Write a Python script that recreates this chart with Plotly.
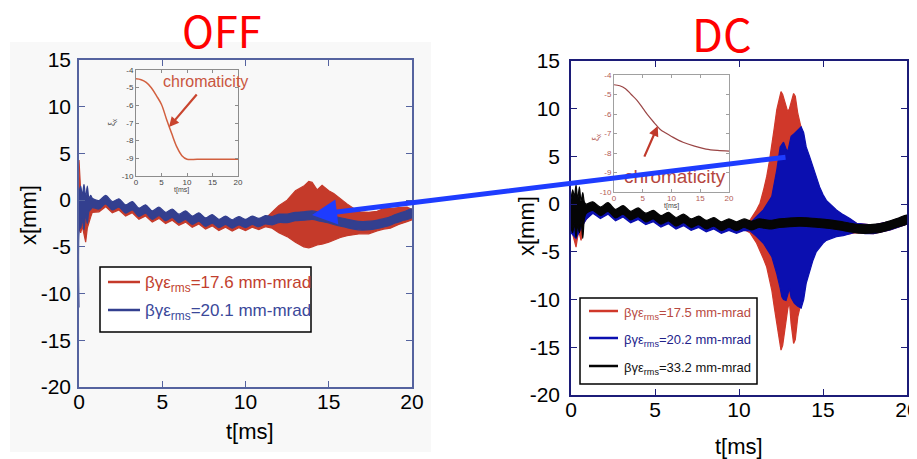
import plotly.graph_objects as go

# the page body has an 8 px margin; the figure is placed at (8, 8) in the window
OFF = 8
W, H = 917 - OFF, 459 - OFF
def X(px): return (px - OFF) / W
def Y(py): return 1 - (py - OFF) / H

# ------------------------------------------------------------------ data
tick_vals_x = [0, 5, 10, 15, 20]
tick_text_x = ["0", "5", "10", "15", "20"]
tick_vals_y = [-20, -15, -10, -5, 0, 5, 10, 15]
tick_text_y = ["-20", "-15", "-10", "-5", "0", "5", "10", "15"]
inset_vals_y = [-10, -9, -8, -7, -6, -5, -4]
inset_text_y = ["-10", "-9", "-8", "-7", "-6", "-5", "-4"]

# OFF panel, 17.6 mm-mrad (red) : envelope (upper / lower) of the oscillation
off_red_t = [0, 0.1, 0.2, 0.3, 0.4, 0.5, 0.6, 0.7, 0.8,
             1.2, 1.6, 2.0, 2.4, 2.8, 3.2, 3.6, 4.0, 4.4, 4.8, 5.2, 5.6, 6.0, 6.4, 6.8, 7.2,
             7.6, 8.0, 8.4, 8.8, 9.2, 9.6, 10.0, 10.4, 10.8, 11.2,
             11.6, 12.0, 12.5, 13.0, 13.5, 13.8, 14.0, 14.3, 14.6, 15.0, 15.3, 15.7, 16.1,
             16.5, 16.9, 17.4, 17.9, 18.3, 18.7, 19.2, 19.7, 20.0]
off_red_hi = [4.3, 1.0, 0.5, 0.8, 0.2, 0.5, 0.0, 0.0, -0.1,
              -0.35, 0.2, -0.45, -0.15, -0.8, -0.45, -1.15, -0.8, -1.45, -1.05, -1.6, -1.25, -1.8, -1.45, -2.0, -1.65,
              -2.2, -1.85, -2.35, -2.0, -2.4, -2.05, -2.35, -2.0, -2.25, -1.95,
              -1.3, -0.6, 0.0, 1.0, 1.5, 2.0, 1.9, 1.1, 1.6, 1.0, 0.7, 0.1, -0.4,
              -0.9, -1.25, -1.3, -1.2, -0.9, -0.9, -0.8, -0.75, -1.0]
off_red_lo = [-3.0, -3.5, -2.8, -3.8, -4.5, -3.0, -2.5, -1.8, -1.3,
              -1.25, -0.7, -1.35, -1.05, -1.7, -1.35, -2.05, -1.7, -2.35, -1.95, -2.5, -2.15, -2.7, -2.35, -2.9, -2.55,
              -3.1, -2.75, -3.25, -2.9, -3.3, -2.95, -3.25, -2.9, -3.15, -2.85,
              -3.0, -3.5, -3.9, -4.5, -5.0, -5.1, -5.0, -4.8, -4.7, -4.5, -4.3, -4.0, -3.8,
              -3.7, -3.6, -3.6, -3.3, -3.1, -3.0, -2.6, -2.3, -2.1]

# OFF panel, 20.1 mm-mrad (blue)
off_blue_t = [0, 0.05, 0.1, 0.2, 0.3, 0.4, 0.5, 0.6, 0.7, 0.8,
              1.2, 1.6, 2.0, 2.4, 2.8, 3.2, 3.6, 4.0, 4.4, 4.8, 5.2, 5.6, 6.0, 6.4, 6.8, 7.2,
              7.6, 8.0, 8.4, 8.8, 9.2, 9.6, 10.0, 10.4, 10.8, 11.2, 11.6,
              12.0, 12.5, 13.0, 13.5, 14.0, 14.5, 15.0, 15.5, 16.0, 16.5, 17.0, 17.5, 18.0,
              18.5, 19.0, 19.5, 20.0]
off_blue_hi = [0.8, 1.2, 1.5, 0.5, 1.7, 0.3, 1.5, 0.2, 0.5, 0.2,
               -0.05, 0.5, -0.15, 0.15, -0.5, -0.15, -0.85, -0.5, -1.15, -0.75, -1.3, -0.95, -1.5, -1.15, -1.7, -1.35,
               -1.9, -1.55, -2.05, -1.7, -2.1, -1.75, -2.05, -1.7, -1.95, -1.65, -1.75,
               -1.5, -1.5, -1.3, -1.25, -1.15, -1.35, -1.55, -1.8, -2.0, -2.2, -2.3, -2.25, -2.1,
               -1.9, -1.55, -1.25, -0.95]
off_blue_lo = [-11.5, -3.0, -3.0, -2.0, -3.2, -1.5, -2.5, -1.2, -1.0, -0.8,
               -0.95, -0.4, -1.05, -0.75, -1.4, -1.05, -1.75, -1.4, -2.05, -1.65, -2.2, -1.85, -2.4, -2.05, -2.6, -2.25,
               -2.8, -2.45, -2.95, -2.6, -3.0, -2.65, -2.95, -2.6, -2.85, -2.55, -2.65,
               -2.4, -2.4, -2.2, -2.15, -2.05, -2.25, -2.45, -2.7, -2.9, -3.1, -3.2, -3.15, -3.0,
               -2.8, -2.45, -2.15, -1.85]

# DC panel, 33.2 mm-mrad (black)
dc_black_t = [0, 0.1, 0.2, 0.3, 0.4, 0.5, 0.6, 0.7, 0.8, 0.9,
              1.3, 1.75, 2.2, 2.65, 3.1, 3.55, 4.0, 4.45, 4.9, 5.35, 5.8, 6.25, 6.7, 7.15, 7.6,
              8.05, 8.5, 8.95, 9.4, 9.85, 10.3, 10.75, 11.2, 11.8, 12.4, 13.0, 13.6, 14.2,
              14.8, 15.4, 16.0, 16.6, 17.2, 17.8, 18.4, 19.0, 19.5, 20.0]
dc_black_hi = [0.5, 1.5, 0.8, 2.0, 0.5, 1.8, 0.3, 1.2, 0.2, 0.0,
               0.25, -0.3, 0.15, -0.55, -0.15, -0.75, -0.4, -0.95, -0.65, -1.2, -0.85, -1.4, -1.05, -1.55, -1.25,
               -1.7, -1.4, -1.85, -1.55, -1.85, -1.55, -1.8, -1.55, -1.7, -1.55, -1.45, -1.4, -1.45,
               -1.55, -1.65, -1.8, -2.0, -2.15, -2.15, -2.05, -1.75, -1.45, -1.15]
dc_black_lo = [-2.5, -3.0, -2.0, -3.5, -2.2, -3.0, -1.8, -3.6, -1.5, -1.0,
               -0.65, -1.2, -0.75, -1.45, -1.05, -1.65, -1.3, -1.85, -1.55, -2.1, -1.75, -2.3, -1.95, -2.45, -2.15,
               -2.6, -2.3, -2.75, -2.45, -2.75, -2.45, -2.7, -2.45, -2.6, -2.45, -2.35, -2.3, -2.35,
               -2.45, -2.55, -2.7, -2.9, -3.05, -3.05, -2.95, -2.65, -2.35, -2.05]

# DC panel, 20.2 mm-mrad (blue)
dc_blue_t = [0, 0.3, 0.6, 0.9,
             1.3, 1.75, 2.2, 2.65, 3.1, 3.55, 4.0, 4.45, 4.9, 5.35, 5.8, 6.25, 6.7, 7.15, 7.6,
             8.05, 8.5, 8.95, 9.4, 9.85, 10.3,
             10.65, 11.05, 11.45, 11.95, 12.25, 12.45, 12.55, 12.65, 12.8, 12.9, 13.0, 13.1, 13.3,
             13.5, 13.7, 13.85, 14.0, 14.2, 14.4, 14.6, 14.8, 15.0, 15.2, 15.5, 15.8, 16.2, 16.6,
             17.0, 17.5, 18.0, 19.0, 20.0]
dc_blue_hi = [0.0, 1.0, 0.0, -0.2,
              0.05, -0.5, -0.05, -0.75, -0.35, -0.95, -0.6, -1.15, -0.85, -1.4, -1.05, -1.6, -1.25, -1.75, -1.45,
              -1.9, -1.6, -2.05, -1.75, -2.05, -1.75,
              -2.0, -1.3, -0.6, 0.8, 3.6, 6.0, 6.3, 6.5, 5.8, 5.5, 6.3, 7.1, 7.4,
              7.8, 8.1, 7.5, 6.0, 5.0, 3.9, 2.8, 1.8, 1.0, 0.4, -0.1, -0.6, -1.1, -1.5,
              -2.0, -2.1, -2.2, -1.8, -1.2]
dc_blue_lo = [-3.0, -3.6, -2.5, -1.6,
              -0.95, -1.5, -1.05, -1.75, -1.35, -1.95, -1.6, -2.15, -1.85, -2.4, -2.05, -2.6, -2.25, -2.75, -2.45,
              -2.9, -2.6, -3.05, -2.75, -3.05, -2.75,
              -2.8, -3.4, -4.1, -5.5, -7.3, -8.8, -9.7, -10.0, -10.1, -9.5, -8.8, -9.8, -10.4,
              -10.7, -10.9, -10.0, -8.3, -7.0, -5.9, -5.0, -4.5, -4.1, -3.8, -3.6, -3.4, -3.3, -3.1,
              -2.9, -3.1, -3.1, -2.7, -2.1]

# DC panel, 17.5 mm-mrad (red)
dc_red_t = [0, 0.15, 0.3, 0.45, 0.6, 0.75, 0.9,
            1.3, 1.75, 2.2, 2.65, 3.1, 3.55, 4.0, 4.45, 4.9, 5.35, 5.8, 6.25, 6.7, 7.15, 7.6,
            8.05, 8.5, 8.95, 9.4, 9.85, 10.3,
            10.65, 11.05, 11.25, 11.45, 11.65, 11.8, 11.95, 12.1, 12.25, 12.4, 12.5, 12.6, 12.75,
            12.9, 13.0, 13.1, 13.25, 13.35, 13.5, 13.7, 13.85, 14.2, 14.6, 15.0, 15.5, 16.2,
            17.0, 18.0, 19.0, 20.0]
dc_red_hi = [0.0, -0.5, 0.0, -0.5, 0.0, -0.5, -0.5,
             -0.05, -0.6, -0.15, -0.85, -0.45, -1.05, -0.7, -1.25, -0.95, -1.5, -1.15, -1.7, -1.35, -1.85, -1.55,
             -2.0, -1.7, -2.15, -1.85, -2.15, -1.85,
             -1.7, -0.6, 0.1, 1.4, 2.9, 4.4, 6.0, 8.0, 9.9, 11.2, 11.8, 11.5, 10.6,
             9.7, 10.0, 10.7, 11.6, 11.3, 9.5, 8.0, 6.5, 4.0, 2.0, 0.5, -0.5, -1.2,
             -2.0, -2.2, -1.8, -1.2]
dc_red_lo = [-2.5, -3.5, -4.5, -2.8, -3.8, -2.0, -1.6,
             -0.85, -1.4, -0.95, -1.65, -1.25, -1.85, -1.5, -2.05, -1.75, -2.3, -1.95, -2.5, -2.15, -2.65, -2.35,
             -2.8, -2.5, -2.95, -2.65, -2.95, -2.65,
             -3.0, -4.1, -4.8, -5.7, -6.6, -7.8, -9.0, -10.8, -12.5, -14.3, -15.3, -14.8, -13.2,
             -11.0, -10.2, -12.5, -14.6, -14.2, -11.8, -10.4, -9.0, -6.5, -4.5, -3.8, -3.4, -3.2,
             -3.0, -3.1, -2.7, -2.1]

# insets: chromaticity vs time
off_chrom_t = [0, 1, 2, 3, 4, 5, 6, 7, 8, 9, 10, 12, 15, 20]
off_chrom = [-4.5, -4.55, -4.7, -5.0, -5.45, -5.95, -6.8, -7.6, -8.35, -8.85, -9.05, -9.05, -9.05, -9.05]
dc_chrom_t = [0, 1, 2, 3, 4, 5, 6, 7, 8, 9, 10, 12, 14, 16, 18, 20]
dc_chrom = [-4.5, -4.55, -4.7, -5.0, -5.3, -5.7, -6.1, -6.45, -6.78, -6.98, -7.15, -7.45, -7.65, -7.8, -7.87, -7.9]

for a, b, c in [(off_red_t, off_red_hi, off_red_lo), (off_blue_t, off_blue_hi, off_blue_lo),
                (dc_black_t, dc_black_hi, dc_black_lo), (dc_blue_t, dc_blue_hi, dc_blue_lo),
                (dc_red_t, dc_red_hi, dc_red_lo)]:
    assert len(a) == len(b) == len(c), (len(a), len(b), len(c))

# ------------------------------------------------------------------ styles
FONT = "Liberation Sans, Arial, sans-serif"
OFF_RED, OFF_BLUE = "#c53a2a", "#333f8f"
DC_RED, DC_BLUE, DC_BLACK = "#d0382a", "#0b0fb0", "#050505"

fig = go.Figure()

def band(t, hi, lo, color, xa, ya, smooth=False):
    fig.add_trace(go.Scatter(
        x=list(t) + list(t)[::-1], y=list(hi) + list(lo)[::-1],
        fill="toself", fillcolor=color, mode="lines",
        line=dict(color=color, width=1.2, shape="spline" if smooth else "linear", smoothing=0.8),
        xaxis=xa, yaxis=ya, hoverinfo="skip", showlegend=False))

band(off_red_t, off_red_hi, off_red_lo, OFF_RED, "x", "y")
band(off_blue_t, off_blue_hi, off_blue_lo, OFF_BLUE, "x", "y", smooth=True)
band(dc_red_t, dc_red_hi, dc_red_lo, DC_RED, "x2", "y2")
band(dc_blue_t, dc_blue_hi, dc_blue_lo, DC_BLUE, "x2", "y2")
band(dc_black_t, dc_black_hi, dc_black_lo, DC_BLACK, "x2", "y2", smooth=True)

fig.add_trace(go.Scatter(x=off_chrom_t, y=off_chrom, mode="lines", line_shape="spline",
                         line=dict(color="#d2603f", width=1.5), xaxis="x3", yaxis="y3",
                         hoverinfo="skip", showlegend=False))
fig.add_trace(go.Scatter(x=dc_chrom_t, y=dc_chrom, mode="lines", line_shape="spline",
                         line=dict(color="#9a4545", width=1.2), xaxis="x4", yaxis="y4",
                         hoverinfo="skip", showlegend=False))

def main_x(dom, anchor, col):
    return dict(domain=dom, anchor=anchor, range=[0, 20], tickvals=tick_vals_x, ticktext=tick_text_x,
                showgrid=False, zeroline=False, showline=True, mirror="ticks", ticks="inside",
                linecolor=col, tickcolor=col, linewidth=1.5, ticklen=6, automargin=False,
                ticklabelstandoff=-5, ticklabeloverflow="allow",
                tickfont=dict(family=FONT, size=21, color="black"))

def main_y(dom, anchor, col, standoff):
    return dict(domain=dom, anchor=anchor, range=[-20, 15], tickvals=tick_vals_y, ticktext=tick_text_y,
                showgrid=False, zeroline=False, showline=True, mirror="ticks", ticks="inside",
                linecolor=col, tickcolor=col, linewidth=1.5, ticklen=6, ticklabelstandoff=standoff,
                automargin=False, ticklabeloverflow="allow",
                tickfont=dict(family=FONT, size=21, color="black"))

def inset_x(dom, anchor, col, fcol):
    return dict(domain=dom, anchor=anchor, range=[0, 20], tickvals=tick_vals_x, ticktext=tick_text_x,
                showgrid=False, zeroline=False, showline=True, mirror="ticks", ticks="inside",
                linecolor=col, tickcolor=col, linewidth=1, ticklen=3, automargin=False,
                ticklabelstandoff=-2, ticklabeloverflow="allow",
                tickfont=dict(family=FONT, size=8, color=fcol))

def inset_y(dom, anchor, col, fcol):
    return dict(domain=dom, anchor=anchor, range=[-10, -4], tickvals=inset_vals_y, ticktext=inset_text_y,
                showgrid=False, zeroline=False, showline=True, mirror="ticks", ticks="inside",
                linecolor=col, tickcolor=col, linewidth=1, ticklen=3, automargin=False,
                ticklabeloverflow="allow",
                tickfont=dict(family=FONT, size=8, color=fcol))

fig.update_layout(
    width=W, height=H, margin=dict(l=0, r=0, t=0, b=0, pad=0, autoexpand=False),
    paper_bgcolor="white", plot_bgcolor="rgba(0,0,0,0)", showlegend=False,
    xaxis=main_x([X(79), X(412)], "y", "#55639f"),
    yaxis=main_y([Y(387), Y(60)], "x", "#55639f", 2),
    xaxis2=main_x([X(571), X(907)], "y2", "#1c1c78"),
    yaxis2=main_y([Y(395), Y(61)], "x2", "#1c1c78", 5),
    xaxis3=inset_x([X(136), X(238)], "y3", "#8c8c8c", "#444444"),
    yaxis3=inset_y([Y(176), Y(70)], "x3", "#8c8c8c", "#444444"),
    xaxis4=inset_x([X(614), X(729)], "y4", "#a0a0a0", "#b35a55"),
    yaxis4=inset_y([Y(192), Y(75)], "x4", "#a0a0a0", "#b35a55"),
)

shapes = []
# faint panel background of the left figure
shapes.append(dict(type="rect", xref="paper", yref="paper", x0=X(10), x1=X(431), y0=Y(452), y1=Y(42),
                   fillcolor="#f8f8f8", line=dict(width=0), layer="below"))
# legend boxes
shapes.append(dict(type="rect", xref="paper", yref="paper", x0=X(100), x1=X(311), y0=Y(332), y1=Y(267),
                   fillcolor="white", line=dict(color="black", width=1.5), layer="above"))
shapes.append(dict(type="rect", xref="paper", yref="paper", x0=X(580), x1=X(757), y0=Y(384), y1=Y(298),
                   fillcolor="white", line=dict(color="black", width=1.5), layer="above"))
for yy, col in [(282, OFF_RED), (310, OFF_BLUE)]:
    shapes.append(dict(type="line", xref="paper", yref="paper", x0=X(108), x1=X(140), y0=Y(yy), y1=Y(yy),
                       line=dict(color=col, width=2.5), layer="above"))
for yy, col in [(311, DC_RED), (338, DC_BLUE), (366, DC_BLACK)]:
    shapes.append(dict(type="line", xref="paper", yref="paper", x0=X(589), x1=X(618), y0=Y(yy), y1=Y(yy),
                       line=dict(color=col, width=2.5), layer="above"))
fig.update_layout(shapes=shapes)

ann = []
def txt(x, y, s, size, color, angle=0, xanchor="center", family=FONT):
    ann.append(dict(x=X(x), y=Y(y), xref="paper", yref="paper", text=s, showarrow=False,
                    textangle=angle, xanchor=xanchor, yanchor="middle",
                    font=dict(family=family, size=size, color=color)))

txt(221, 29, "OFF", 43, "#ff0000", family="Noto Sans CJK JP, Noto Sans, sans-serif")
txt(722, 32, "DC", 45, "#ff0000", family="Noto Sans CJK JP, Noto Sans, sans-serif")
txt(28, 215, "x[mm]", 22, "black", angle=-90)
txt(250, 431, "t[ms]", 22, "black")
txt(526, 226, "x[mm]", 22, "black", angle=-90)
txt(739, 446, "t[ms]", 22, "black")
# inset axis titles
txt(113, 122, "ξ<sub>x</sub>", 9, "#555555", angle=-90)
txt(181, 190, "t[ms]", 7, "#444444")
txt(596, 137, "ξ<sub>x</sub>", 9, "#b35a55", angle=-90)
txt(671, 206, "t[ms]", 7, "#444444")
# legends
txt(143, 284, "βγε<sub>rms</sub>=17.6 mm-mrad", 17, "#c23f2e", xanchor="left")
txt(143, 312, "βγε<sub>rms</sub>=20.1 mm-mrad", 17, "#3b489a", xanchor="left")
txt(622, 313, "βγε<sub>rms</sub>=17.5 mm-mrad", 13, "#b84a42", xanchor="left")
txt(622, 340, "βγε<sub>rms</sub>=20.2 mm-mrad", 13, "#22228a", xanchor="left")
txt(622, 368, "βγε<sub>rms</sub>=33.2 mm-mrad", 13, "#111111", xanchor="left")
# chromaticity labels
txt(205, 81, "chromaticity", 16, "#c9553e")
txt(675, 176, "chromaticity", 19, "#b5473f")

# inset arrows
ann.append(dict(x=6.47, y=-7.23, xref="x3", yref="y3", ax=29, ay=-34, text="", showarrow=True,
                arrowhead=2, arrowsize=0.9, arrowwidth=2.2, arrowcolor="#c9452f"))
ann.append(dict(x=7.6, y=-6.62, xref="x4", yref="y4", ax=-14, ay=32, text="", showarrow=True,
                arrowhead=2, arrowsize=0.9, arrowwidth=2.2, arrowcolor="#c0392b"))
# big blue arrow between panels
ann.append(dict(x=X(312), y=Y(215), xref="paper", yref="paper", ax=475, ay=-58, text="", showarrow=True,
                arrowhead=2, arrowsize=1.0, arrowwidth=5, arrowcolor="#1e3cff"))
fig.update_layout(annotations=ann)

fig.write_html("out.html")
